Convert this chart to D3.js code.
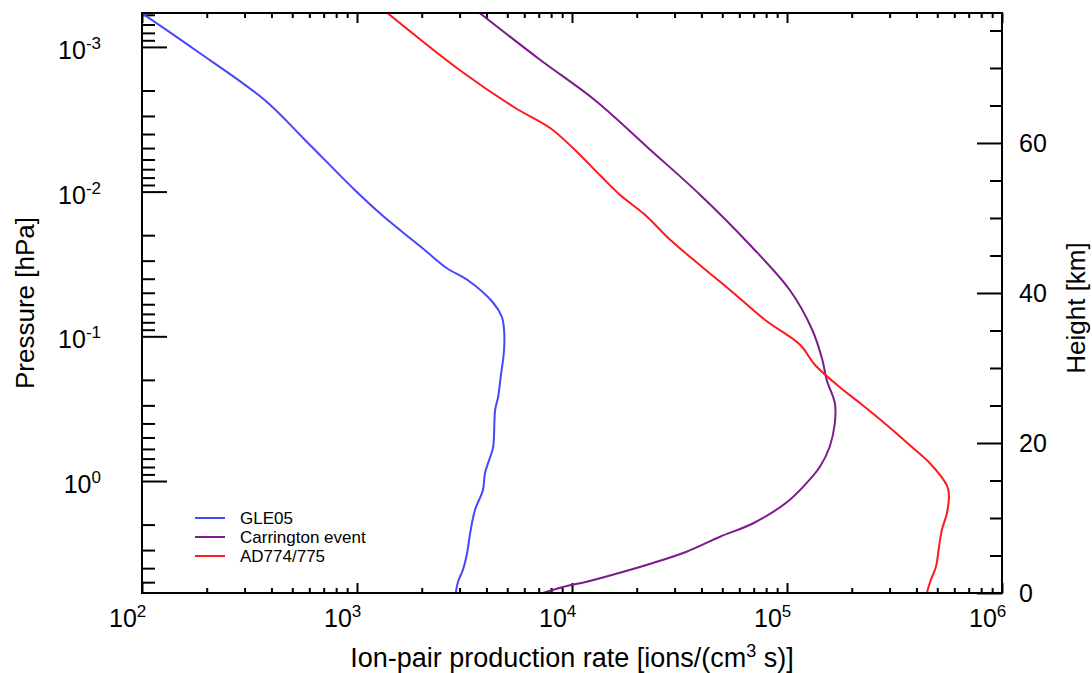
<!DOCTYPE html>
<html>
<head>
<meta charset="utf-8">
<script src="https://cdn.jsdelivr.net/npm/d3@7"></script>
<style>
  body { margin: 0; background: #fff; }
  svg text { font-family: "Liberation Sans", Arial, sans-serif; fill: #000; }
</style>
</head>
<body>
<div class="svg-container"></div>
<script>
//tick labels
const rateTicks = [1e2, 1e3, 1e4, 1e5, 1e6];
const rateExp = ['2', '3', '4', '5', '6'];
const pressureTicks = [1e-3, 1e-2, 1e-1, 1e0];
const pressureExp = ['-3', '-2', '-1', '0'];
const heightTicks = [0, 20, 40, 60];

//series: height [km] and ion-pair production rate
const gleHeight = [77.3, 72.4, 65.7, 60.4, 53.7, 50.4, 45.7, 43.3, 41.7, 38.7, 36.8, 35.1, 32.4, 28.8, 26.1, 24.4, 19.5, 18.1, 16.0, 13.7, 11.1, 8.0, 5.3, 3.1, 1.5, 0.0];
const gleRate = [100, 177, 373, 573, 979, 1306, 2070, 2620, 3280, 4300, 4720, 4830, 4830, 4660, 4530, 4390, 4300, 4160, 3940, 3850, 3540, 3360, 3250, 3110, 2950, 2880];

const carHeight = [77.3, 71.1, 65.7, 59.1, 53.1, 46.4, 40.4, 35.1, 31.1, 28.4, 25.3, 22.7, 19.5, 16.8, 14.4, 12.1, 9.3, 7.5, 5.5, 4.0, 2.7, 1.5, 0.8, 0.0];
const carRate = [3730, 7100, 12800, 23100, 39400, 67300, 103000, 131000, 146000, 153000, 167000, 167000, 158000, 142000, 121000, 99800, 69700, 48800, 34100, 23800, 16700, 11700, 9080, 7330];

const adHeight = [77.3, 69.7, 64.7, 62.0, 59.1, 55.7, 53.1, 50.4, 47.1, 43.7, 40.4, 36.4, 33.1, 30.4, 27.1, 25.3, 22.8, 19.7, 17.3, 14.4, 13.3, 10.7, 8.4, 6.1, 3.5, 1.7, 0.0];
const adRate = [1390, 3010, 5430, 7910, 10300, 13500, 16700, 21900, 28600, 39400, 54300, 79100, 115000, 135000, 182000, 219000, 280000, 373000, 462000, 553000, 566000, 555000, 525000, 509000, 493000, 466000, 447000];

const seriesNames = ['GLE05', 'Carrington event', 'AD774/775'];
const seriesColors = ['#4646ff', '#7e1a8e', '#ff1a1a'];

//layout
const width = 1092, height = 673;
const margin = { top: 13, right: 90, bottom: 80, left: 142 };
const plotW = 860, plotH = 580;

const svg = d3.select('.svg-container')
  .append('svg')
  .attr('width', width)
  .attr('height', height);

const xScale = d3.scaleLog().domain([1e2, 1e6]).range([margin.left, margin.left + plotW]);
const pScale = d3.scaleLog().domain([5.94, 5.83e-4]).range([margin.top + plotH, margin.top]);
const hScale = d3.scaleLinear().domain([0, 77.33]).range([margin.top + plotH, margin.top]);

const x0 = margin.left, x1 = margin.left + plotW;
const y0 = margin.top + plotH, y1 = margin.top;

const xMinor = xScale.ticks().filter(v => !rateTicks.includes(v));
const pMinor = pScale.ticks().filter(v => !pressureTicks.some(t => Math.abs(t - v) / t < 1e-6));
const hMinor = d3.range(0, 78, 5).filter(v => !heightTicks.includes(v));

function styleAxis(g) {
  g.select('.domain').remove();
  g.selectAll('.tick line').attr('stroke', '#000').attr('stroke-width', 2);
  g.selectAll('.tick text').remove();
}

//bottom and top axes
[[d3.axisBottom, y0, -10, rateTicks], [d3.axisBottom, y0, -5, xMinor],
 [d3.axisTop, y1, -10, rateTicks], [d3.axisTop, y1, -5, xMinor]].forEach(([ax, y, size, vals]) => {
  svg.append('g')
    .attr('transform', `translate(0,${y})`)
    .call(ax(xScale).tickValues(vals).tickSize(size).tickSizeOuter(0))
    .call(styleAxis);
});

//left pressure axis
[[25, pressureTicks], [13, pMinor]].forEach(([size, vals]) => {
  svg.append('g')
    .attr('transform', `translate(${x0},0)`)
    .call(d3.axisLeft(pScale).tickValues(vals).tickSize(-size).tickSizeOuter(0))
    .call(styleAxis);
});

//right height axis
[[25, heightTicks], [12, hMinor]].forEach(([size, vals]) => {
  svg.append('g')
    .attr('transform', `translate(${x1},0)`)
    .call(d3.axisRight(hScale).tickValues(vals).tickSize(-size).tickSizeOuter(0))
    .call(styleAxis);
});

//clip + curves
svg.append('clipPath').attr('id', 'clip')
  .append('rect').attr('x', x0).attr('y', y1).attr('width', plotW).attr('height', plotH);

const series = [
  gleHeight.map((h, i) => ({ height: h, rate: gleRate[i] })),
  carHeight.map((h, i) => ({ height: h, rate: carRate[i] })),
  adHeight.map((h, i) => ({ height: h, rate: adRate[i] }))
];

const line = d3.line()
  .x(d => xScale(d.rate))
  .y(d => hScale(d.height))
  .curve(d3.curveCatmullRom.alpha(0.5));

svg.append('g').attr('clip-path', 'url(#clip)')
  .selectAll('path')
  .data(series)
  .join('path')
  .attr('d', line)
  .attr('fill', 'none')
  .attr('stroke', (d, i) => seriesColors[i])
  .attr('stroke-width', 2)
  .attr('stroke-linejoin', 'round');

//frame
svg.append('rect')
  .attr('x', x0).attr('y', y1).attr('width', plotW).attr('height', plotH)
  .attr('fill', 'none').attr('stroke', '#000').attr('stroke-width', 2);

//x tick labels
svg.selectAll('.x-label')
  .data(rateTicks)
  .join('text')
  .attr('class', 'x-label')
  .attr('x', d => xScale(d) - 33)
  .attr('y', y0 + 34)
  .attr('font-size', 25)
  .each(function (d, i) {
    const t = d3.select(this);
    t.append('tspan').text('10');
    t.append('tspan').attr('dy', -10).attr('font-size', 17).text(rateExp[i]);
  });

//pressure tick labels
svg.selectAll('.p-label')
  .data(pressureTicks)
  .join('text')
  .attr('class', 'p-label')
  .attr('x', 101)
  .attr('y', d => pScale(d) + 12)
  .attr('text-anchor', 'end')
  .attr('font-size', 25)
  .each(function (d, i) {
    const t = d3.select(this);
    t.append('tspan').text('10');
    t.append('tspan').attr('dy', -10).attr('font-size', 17).text(pressureExp[i]);
  });

//height tick labels
svg.selectAll('.h-label')
  .data(heightTicks)
  .join('text')
  .attr('class', 'h-label')
  .attr('x', x1 + 17)
  .attr('y', d => hScale(d) + 9)
  .attr('font-size', 25)
  .text(d => d);

//axis titles
const xt = svg.append('text')
  .attr('x', (x0 + x1) / 2)
  .attr('y', 667)
  .attr('text-anchor', 'middle')
  .attr('font-size', 27);
xt.append('tspan').text('Ion-pair production rate [ions/(cm');
xt.append('tspan').attr('dy', -10).attr('font-size', 18).text('3');
xt.append('tspan').attr('dy', 10).text(' s)]');

svg.append('text')
  .attr('transform', `translate(34,${(y0 + y1) / 2}) rotate(-90)`)
  .attr('text-anchor', 'middle')
  .attr('font-size', 26)
  .text('Pressure [hPa]');

svg.append('text')
  .attr('transform', `translate(1085,${(y0 + y1) / 2 + 5}) rotate(-90)`)
  .attr('text-anchor', 'middle')
  .attr('font-size', 26)
  .text('Height [km]');

//legend
const legend = svg.append('g').attr('transform', 'translate(195,518)');
seriesNames.forEach((name, i) => {
  const ly = i * 19;
  legend.append('line')
    .attr('x1', 0).attr('x2', 30).attr('y1', ly).attr('y2', ly)
    .attr('stroke', seriesColors[i]).attr('stroke-width', 2);
  legend.append('text')
    .attr('x', 45).attr('y', ly + 6)
    .attr('font-size', 17)
    .text(name);
});
</script>
</body>
</html>
